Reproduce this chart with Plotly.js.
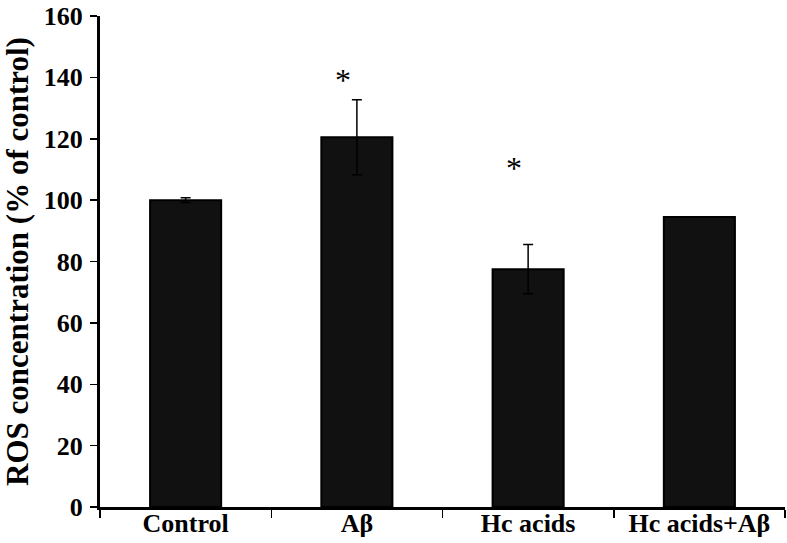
<!DOCTYPE html>
<html>
<head>
<meta charset="utf-8">
<script src="https://cdn.plot.ly/plotly-3.0.1.min.js"></script>
<style>html,body{margin:0;padding:0;background:#fff;}#chart{width:787px;height:543px;}</style>
</head>
<body>
<div id="chart"></div>
<script>
var categories = ["Control", "Aβ", "Hc acids", "Hc acids+Aβ"];
var values = [100, 120.5, 77.5, 94.5];
var errors = [0.8, 12.2, 8.0, 0];
var significant = [false, true, true, false];
var starOffsets = [0, 18.5, 33, 0];

var FONT = "Liberation Serif, Times New Roman, serif";
var annotations = [];
for (var i = 0; i < categories.length; i++) {
  if (significant[i]) {
    annotations.push({
      x: categories[i], y: values[i] + starOffsets[i], xref: "x", yref: "y",
      text: "*", showarrow: false, xshift: -14,
      font: {family: FONT, size: 32, color: "#000"}
    });
  }
}

var trace = {
  type: "bar",
  x: categories,
  y: values,
  width: 0.415,
  marker: {color: "#111111", line: {color: "#000", width: 2}},
  error_y: {type: "data", array: errors, visible: true, color: "#000", thickness: 1.5, width: 5}
};

var layout = {
  width: 787, height: 543,
  margin: {l: 100, r: 2, t: 16, b: 36},
  paper_bgcolor: "#fff", plot_bgcolor: "#fff",
  showlegend: false,
  font: {family: FONT, color: "#000"},
  xaxis: {
    type: "category",
    showline: true, linewidth: 3, linecolor: "#000",
    ticks: "outside", tickson: "boundaries", ticklen: 8, tickwidth: 1.5, tickcolor: "#000",
    ticklabelstandoff: -9,
    tickfont: {size: 26, family: FONT, weight: "bold"},
    showgrid: false, zeroline: false
  },
  yaxis: {
    range: [0, 160], dtick: 20,
    showline: true, linewidth: 3, linecolor: "#000",
    ticks: "outside", ticklen: 7, tickwidth: 1.5, tickcolor: "#000",
    ticklabelstandoff: 2,
    tickfont: {size: 26, family: FONT, weight: "bold"},
    showgrid: false, zeroline: false,
    title: {text: "ROS concentration (% of control)", standoff: 6,
      font: {size: 31, family: FONT, weight: "bold"}}
  },
  annotations: annotations
};

Plotly.newPlot("chart", [trace], layout, {staticPlot: true, displayModeBar: false});
</script>
</body>
</html>
